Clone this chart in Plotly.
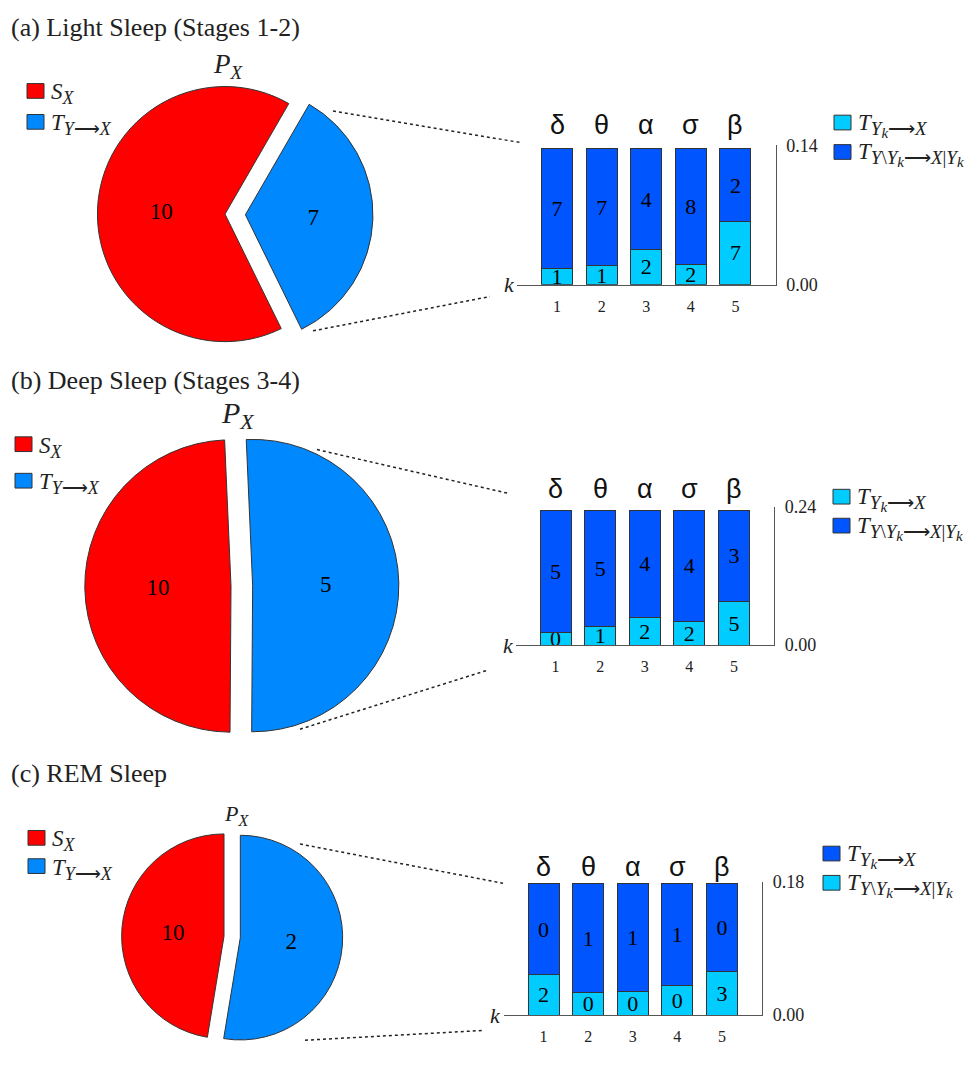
import plotly.graph_objects as go

# ---- data -------------------------------------------------------------
bands = ["δ", "θ", "α", "σ", "β"]
k_index = [1, 2, 3, 4, 5]
k_ticktext = ["1", "2", "3", "4", "5"]

panel_titles = ["(a) Light Sleep (Stages 1-2)",
                "(b) Deep Sleep (Stages 3-4)",
                "(c) REM Sleep"]

# pie shares: [T_{Y->X}, S_X]
pie_a = [0.344, 0.656]
pie_b = [0.508, 0.492]
pie_c = [0.526, 0.474]
pie_a_text = ["7", "10"]
pie_b_text = ["5", "10"]
pie_c_text = ["2", "10"]

# stacked bars: lower (light) segment and upper (dark) segment per band
low_a = [0.0165, 0.0194, 0.0358, 0.0200, 0.0638]
up_a = [0.1199, 0.1170, 0.1006, 0.1164, 0.0726]
low_a_text = ["1", "1", "2", "2", "7"]
up_a_text = ["7", "7", "4", "8", "2"]

low_b = [0.0222, 0.0324, 0.0483, 0.0420, 0.0761]
up_b = [0.2122, 0.2020, 0.1861, 0.1924, 0.1583]
low_b_text = ["0", "1", "2", "2", "5"]
up_b_text = ["5", "5", "4", "4", "3"]

low_c = [0.0551, 0.0299, 0.0322, 0.0401, 0.0582]
up_c = [0.1217, 0.1469, 0.1446, 0.1367, 0.1186]
low_c_text = ["2", "0", "0", "0", "3"]
up_c_text = ["0", "1", "1", "1", "0"]

y_max = [0.14, 0.24, 0.18]
y_ticktext = [["0.00", "0.14"], ["0.00", "0.24"], ["0.00", "0.18"]]

# ---- style ------------------------------------------------------------
W, H = 974, 1065
RED = "#FF0000"
PIE_BLUE = "#0088FF"
DARK = "#0055FF"
CYAN = "#00CCFF"
EDGE = "#333333"
AXIS = "#555555"
SERIF = "Liberation Serif"
SANS = "Liberation Sans"


def fx(px):
    return px / W


def fy(py):
    return 1 - py / H


fig = go.Figure()

# ---- pies -------------------------------------------------------------
pie_specs = [
    # values, text, rotation, pull, centre(px), radius(px)
    (pie_a, pie_a_text, 30, 0.16, (225, 208), 130),
    (pie_b, pie_b_text, -2.5, 0.148, (231, 587), 149),
    (pie_c, pie_c_text, 0, 0.16, (224, 944), 104.3),
]
for vals, txt, rot, pull, (cx, cy), r in pie_specs:
    half = r * (1 + pull)
    fig.add_trace(go.Pie(
        values=vals, text=txt, textinfo="text",
        textposition="inside", insidetextorientation="horizontal",
        textfont=dict(family=SERIF, size=23, color="black"),
        sort=False, direction="clockwise", rotation=rot,
        pull=[pull, 0],
        marker=dict(colors=[PIE_BLUE, RED], line=dict(color=EDGE, width=1)),
        domain=dict(x=[fx(cx - half), fx(cx + half)],
                    y=[max(0, fy(cy + half)), min(1, fy(cy - half))]),
        showlegend=False, hoverinfo="skip",
    ))

# ---- stacked bars ------------------------------------------------------
bar_panels = [
    (low_a, up_a, low_a_text, up_a_text),
    (low_b, up_b, low_b_text, up_b_text),
    (low_c, up_c, low_c_text, up_c_text),
]
# plot boxes in pixels: (left, right, baseline, top tick)
bar_boxes = [(517, 775.5, 280, 138), (515.5, 774, 647.3, 506.7), (503.5, 762, 1024.3, 888.3)]

for i, (low, up, low_t, up_t) in enumerate(bar_panels):
    xa = "x" if i == 0 else f"x{i + 1}"
    ya = "y" if i == 0 else f"y{i + 1}"
    for vals, txt, col in ((low, low_t, CYAN), (up, up_t, DARK)):
        fig.add_trace(go.Bar(
            x=k_index, y=vals, text=txt, xaxis=xa, yaxis=ya,
            marker=dict(color=col, line=dict(color=EDGE, width=1)),
            textposition="inside", insidetextanchor="middle", textangle=0,
            constraintext="none", cliponaxis=False,
            textfont=dict(family=SERIF, size=22, color="black"),
            showlegend=False, hoverinfo="skip",
        ))

layout_axes = {}
for i, (l, rgt, base, top) in enumerate(bar_boxes):
    sx = "" if i == 0 else str(i + 1)
    layout_axes[f"xaxis{sx}"] = dict(
        domain=[fx(l), fx(rgt)], range=[0.1, 5.9], anchor=f"y{sx}",
        tickvals=k_index, ticktext=k_ticktext, showline=True,
        linecolor=AXIS, linewidth=1.2, ticks="", showgrid=False,
        zeroline=False, ticklabelstandoff=7,
        tickfont=dict(family=SERIF, size=16, color="#222"),
    )
    layout_axes[f"yaxis{sx}"] = dict(
        domain=[fy(base), fy(top)], range=[0, y_max[i]], anchor=f"x{sx}",
        side="right", tickvals=[0, y_max[i]], ticktext=y_ticktext[i],
        showline=True, linecolor=AXIS, linewidth=1.2, ticks="inside",
        ticklen=4, tickcolor=AXIS, showgrid=False, zeroline=False,
        ticklabelstandoff=6,
        tickfont=dict(family=SERIF, size=18, color="#222"),
    )

annotations = []
shapes = []

# band letters above bars and the k marker at the left of each x axis
greek_shift = [20, 18, 15]
for i in range(3):
    sx = "" if i == 0 else str(i + 1)
    for kk, g in zip(k_index, bands):
        annotations.append(dict(
            x=kk, y=1, xref=f"x{sx}", yref=f"y{sx} domain", text=g,
            showarrow=False, yanchor="middle", yshift=greek_shift[i],
            font=dict(family=SANS, size=27, color="#111")))
    annotations.append(dict(
        x=0, y=0, xref=f"x{sx} domain", yref=f"y{sx} domain",
        text="<i>k</i>", showarrow=False, xanchor="right", yanchor="middle",
        xshift=0, font=dict(family=SERIF, size=22, color="#222")))

# panel titles
for txt, ty in zip(panel_titles, [18, 378, 778]):
    annotations.append(dict(
        x=fx(9), y=fy(ty), xref="paper", yref="paper", text=txt,
        showarrow=False, xanchor="left", yanchor="middle",
        font=dict(family=SERIF, size=26, color="#222")))


def sz(txt, px):
    return f"<span style='font-size:{px}px'>{txt}</span>"


# P_X labels over the pies
for (px_, py_, fs, fsub) in [(228, 57, 27, 19), (238, 413, 30, 22), (236, 820, 22, 16)]:
    annotations.append(dict(
        x=fx(px_), y=fy(py_), xref="paper", yref="paper",
        text="<i>P</i><sub>" + sz("<i>X</i>", fsub) + "</sub>", showarrow=False,
        xanchor="center", yanchor="middle",
        font=dict(family=SERIF, size=fs, color="#222")))


def legend_item(x0, yc, color, label, w=17, h=15, fs=23):
    shapes.append(dict(type="rect", xref="paper", yref="paper",
                       x0=fx(x0), x1=fx(x0 + w), y0=fy(yc + h / 2), y1=fy(yc - h / 2),
                       fillcolor=color, line=dict(color=EDGE, width=1)))
    annotations.append(dict(x=fx(x0 + w + 5), y=fy(yc + 3), xref="paper", yref="paper",
                            text=label, showarrow=False, xanchor="left",
                            yanchor="middle",
                            font=dict(family=SERIF, size=fs, color="#222")))


S_X = "<i>S</i><sub>" + sz("<i>X</i>", 18) + "</sub>"
T_YX = "<i>T</i><sub>" + sz("<i>Y</i>⟶<i>X</i>", 18) + "</sub>"
T_YK = ("<i>T</i><sub>" + sz("<i>Y</i>", 19) + "<sub>" + sz("<i>k</i>", 15) + "</sub>"
        + sz("⟶<i>X</i>", 19) + "</sub>")
T_COND = ("<i>T</i><sub>" + sz("<i>Y</i>\\<i>Y</i>", 19) + "<sub>" + sz("<i>k</i>", 15)
          + "</sub>" + sz("⟶<i>X</i>|<i>Y</i>", 19) + "<sub>" + sz("<i>k</i>", 15)
          + "</sub></sub>")

# pie legends
for x0, y1, y2 in [(27, 82.5, 114), (15, 442.5, 479.7), (28, 843.7, 872.5)]:
    legend_item(x0, y1, RED, S_X)
    legend_item(x0, y2, PIE_BLUE, T_YX)

# bar legends
legend_item(834, 114.7, CYAN, T_YK)
legend_item(834, 144.7, DARK, T_COND)
legend_item(833, 496, CYAN, T_YK)
legend_item(833, 525.5, DARK, T_COND)
legend_item(823, 859.7, DARK, T_YK)
legend_item(823, 889.5, CYAN, T_COND)

# dotted guides from each pie to its bar panel
for (x0, y0, x1, y1) in [(333, 103, 520, 135), (313, 327, 490, 292),
                         (317, 448, 510, 493), (300, 733, 487, 673),
                         (300, 850, 503, 890), (305, 1050, 482, 1040)]:
    shapes.append(dict(type="line", xref="paper", yref="paper",
                       x0=fx(x0), y0=fy(y0), x1=fx(x1), y1=fy(y1),
                       line=dict(color="#222", width=1.5, dash="dot")))

fig.update_layout(
    width=W, height=H, margin=dict(l=0, r=0, t=0, b=0),
    paper_bgcolor="white", plot_bgcolor="white",
    barmode="stack", bargap=0.305,
    annotations=annotations, shapes=shapes,
    **layout_axes,
)

fig.write_html("out.html")
